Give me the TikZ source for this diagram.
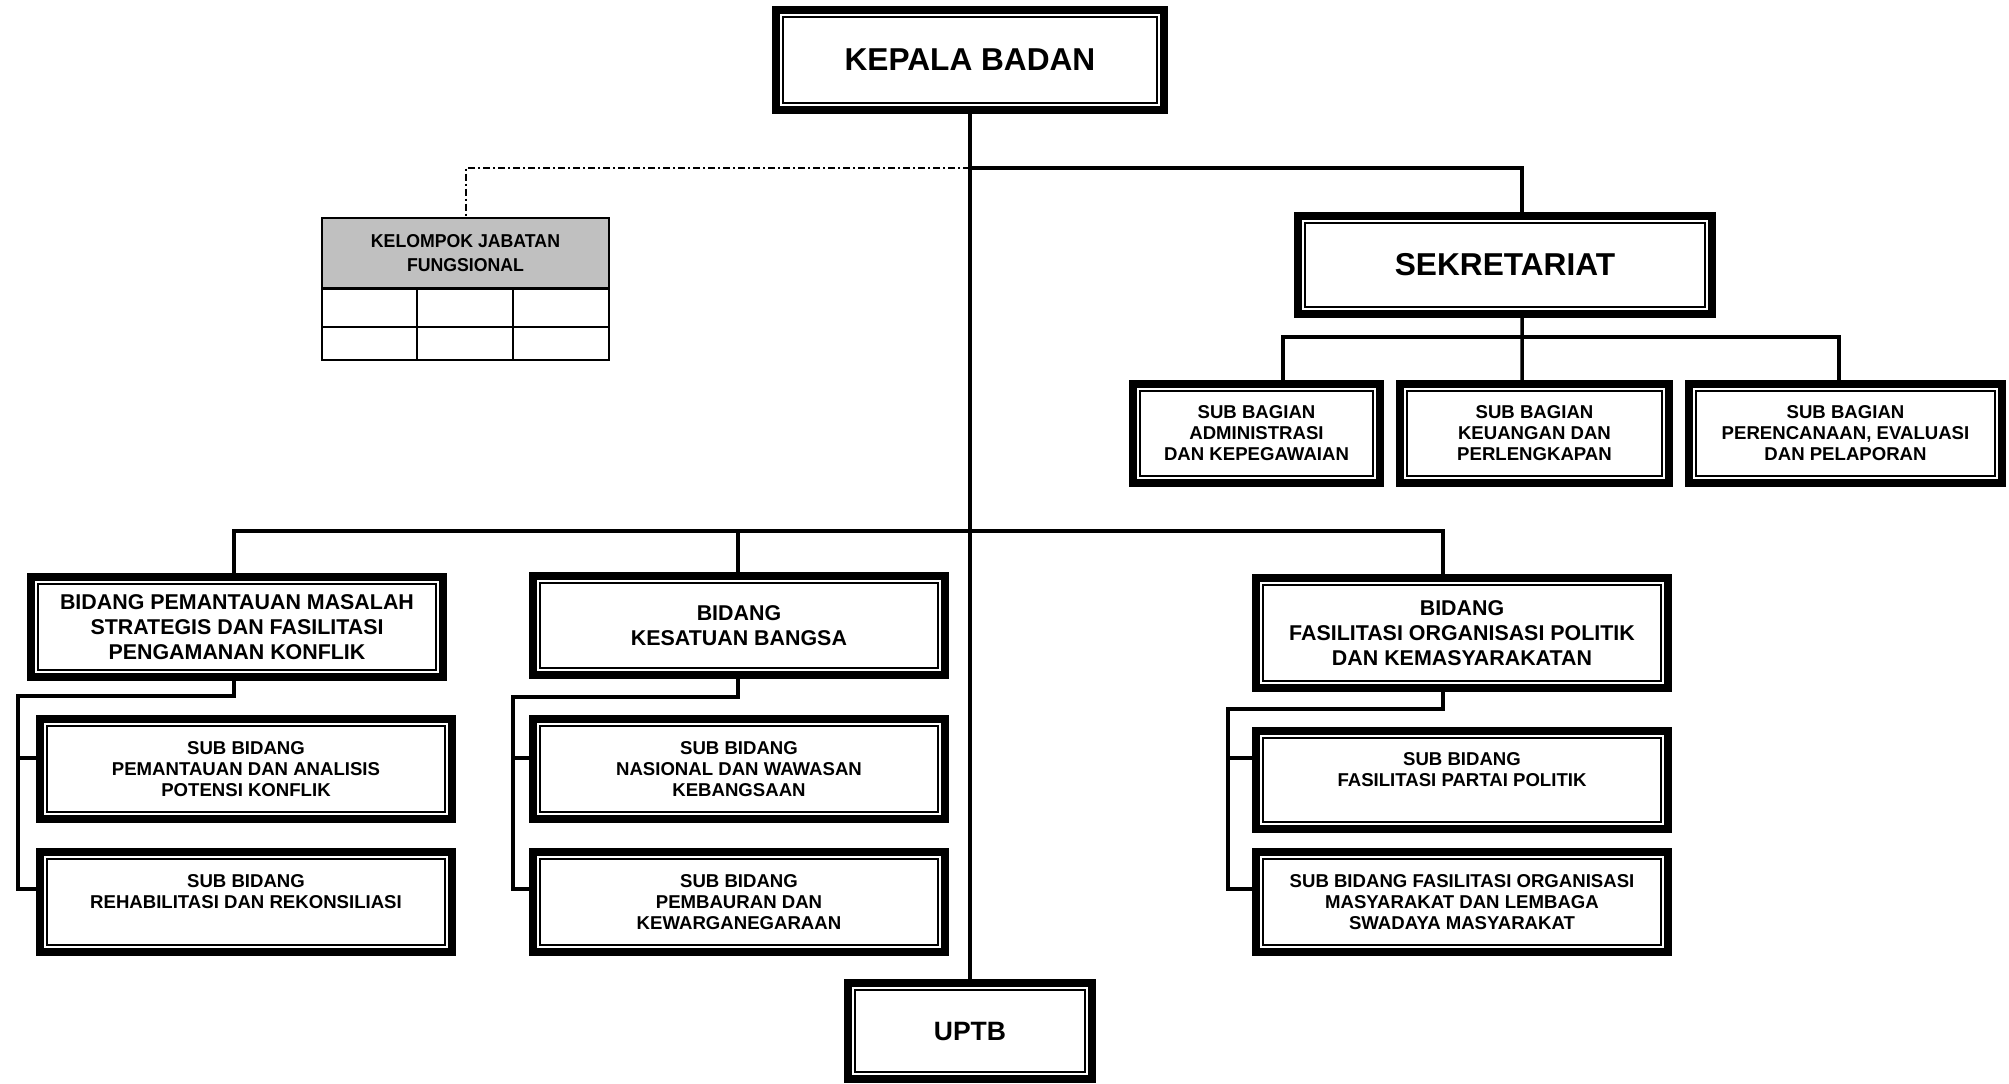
\documentclass[tikz,border=0pt]{standalone}
\usepackage{fontspec}
\setmainfont{Liberation Sans}
\newfontfamily\narrowsans[FakeStretch=0.95]{Liberation Sans}
\definecolor{headgray}{RGB}{192,192,192}
\begin{document}
\begin{tikzpicture}[x=0.1mm,y=-0.1mm,
  unitbox/.style={draw, line width=0.8mm, fill=white, rectangle, align=center, inner sep=0pt},
  boxsize/.style 2 args={minimum width={(#1-8)*0.1mm}, minimum height={(#2-8)*0.1mm}},
  innerline/.style={line width=0.17mm},
  headtext/.style={font=\bfseries\fontsize{9}{10.8}\selectfont},
  uptbtext/.style={font=\bfseries\fontsize{7.55}{9}\selectfont},
  bidtext/.style={font=\bfseries\fontsize{6.09}{7.11}\selectfont},
  subtext/.style={font=\bfseries\fontsize{5.29}{5.98}\selectfont},
  kjfbox/.style={draw, line width=0.2mm, fill=headgray, rectangle, align=center, inner sep=0pt,
    minimum width=28.7mm, minimum height=7mm,
    font=\narrowsans\bfseries\fontsize{5.3}{6.85}\selectfont},
  gridline/.style={line width=0.2mm},
  link/.style={line width=0.35mm},
  dashdot/.style={line width=0.2mm, dash pattern=on 0.7mm off 0.3mm on 0.2mm off 0.3mm}
]
\useasboundingbox (0,0) rectangle (2009,1083);

% top level
\node[unitbox, boxsize={396}{108}, headtext] (kb) at (970,60) {KEPALA BADAN};
\node[unitbox, boxsize={422}{106}, headtext] (sek) at (1505,265) {SEKRETARIAT};
\node[unitbox, boxsize={252}{104}, uptbtext] (uptb) at (970,1031) {UPTB};

% sub bagian of the secretariat
\node[unitbox, boxsize={255}{107}, subtext] (sb1) at (1256.5,433.5) {SUB BAGIAN\\ADMINISTRASI\\DAN KEPEGAWAIAN};
\node[unitbox, boxsize={277}{107}, subtext] (sb2) at (1534.5,433.5) {SUB BAGIAN\\KEUANGAN DAN\\PERLENGKAPAN};
\node[unitbox, boxsize={321}{107}, subtext] (sb3) at (1845.5,433.5) {SUB BAGIAN\\PERENCANAAN, EVALUASI\\DAN PELAPORAN};

% functional group table
\node[kjfbox] (kjf) at (465.5,253) {KELOMPOK JABATAN\\FUNGSIONAL};
\draw[gridline] (322,289) rectangle (609,360);
\draw[gridline] (322,327) -- (609,327);
\draw[gridline] (417,289) -- (417,360);
\draw[gridline] (513,289) -- (513,360);

% bidang
\node[unitbox, boxsize={420}{108}, bidtext] (b1) at (237,627) {BIDANG PEMANTAUAN MASALAH\\STRATEGIS DAN FASILITASI\\PENGAMANAN KONFLIK};
\node[unitbox, boxsize={420}{107}, bidtext] (b2) at (739,625.5) {BIDANG\\KESATUAN BANGSA};
\node[unitbox, boxsize={420}{118}, bidtext] (b3) at (1462,633) {BIDANG\\FASILITASI ORGANISASI POLITIK\\DAN KEMASYARAKATAN};

% sub bidang
\node[unitbox, boxsize={420}{108}, subtext] (s1a) at (246,769) {SUB BIDANG\\PEMANTAUAN DAN ANALISIS\\POTENSI KONFLIK};
\node[unitbox, boxsize={420}{108}, subtext] (s1b) at (246,902) {SUB BIDANG\\REHABILITASI DAN REKONSILIASI\\ \mbox{}};
\node[unitbox, boxsize={420}{108}, subtext] (s2a) at (739,769) {SUB BIDANG\\NASIONAL DAN WAWASAN\\KEBANGSAAN};
\node[unitbox, boxsize={420}{108}, subtext] (s2b) at (739,902) {SUB BIDANG\\PEMBAURAN DAN\\KEWARGANEGARAAN};
\node[unitbox, boxsize={420}{106}, subtext] (s3a) at (1462,780) {SUB BIDANG\\FASILITASI PARTAI POLITIK\\ \mbox{}};
\node[unitbox, boxsize={420}{108}, subtext] (s3b) at (1462,902) {SUB BIDANG FASILITASI ORGANISASI\\MASYARAKAT DAN LEMBAGA\\SWADAYA MASYARAKAT};

% thin inner frame of every unit box
\foreach \n in {kb,sek,uptb,sb1,sb2,sb3,b1,b2,b3,s1a,s1b,s2a,s2b,s3a,s3b}
  \draw[innerline] ([xshift=1.085mm,yshift=-1.085mm]\n.north west) rectangle ([xshift=-1.085mm,yshift=1.085mm]\n.south east);

% main line of command
\coordinate (topj) at (970,168);
\draw[link] (kb.south) -- (uptb.north);
\draw[link] (topj) -| ([xshift=1.7mm]sek.north);
\draw[dashdot] (topj) -| (kjf.north);

% secretariat to its sub bagian
\coordinate (sbar) at (1522,337);
\draw[link] ([xshift=1.7mm]sek.south) -- (sbar);
\draw[link] ([xshift=2.65mm]sb1.north) |- (sbar) -| ([xshift=-0.65mm]sb3.north);
\draw[link] (sbar) -- ([xshift=-1.25mm]sb2.north);

% bar to the three bidang
\coordinate (lbar) at (970,531);
\draw[link] ([xshift=-0.3mm]b1.north) |- (lbar) -| ([xshift=-1.9mm]b3.north);
\draw[link] ([xshift=-0.1mm]b2.north) -- ([xshift=-0.1mm]b2.north |- lbar);

% bidang 1 to its sub bidang
\coordinate (v1) at (18,696);
\coordinate (s1ap) at ([yshift=1.1mm]s1a.west);
\coordinate (s1bp) at ([yshift=1.3mm]s1b.west);
\draw[link] ([xshift=-0.3mm]b1.south) |- (v1) |- (s1bp);
\draw[link] (s1ap) -- (s1ap -| v1);

% bidang 2 to its sub bidang
\coordinate (v2) at (513,697);
\coordinate (s2ap) at ([yshift=1.1mm]s2a.west);
\coordinate (s2bp) at ([yshift=1.3mm]s2b.west);
\draw[link] ([xshift=-0.1mm]b2.south) |- (v2) |- (s2bp);
\draw[link] (s2ap) -- (s2ap -| v2);

% bidang 3 to its sub bidang
\coordinate (v3) at (1228,709);
\coordinate (s3ap) at ([yshift=2.2mm]s3a.west);
\coordinate (s3bp) at ([yshift=1.3mm]s3b.west);
\draw[link] ([xshift=-1.9mm]b3.south) |- (v3) |- (s3bp);
\draw[link] (s3ap) -- (s3ap -| v3);
\end{tikzpicture}
\end{document}
